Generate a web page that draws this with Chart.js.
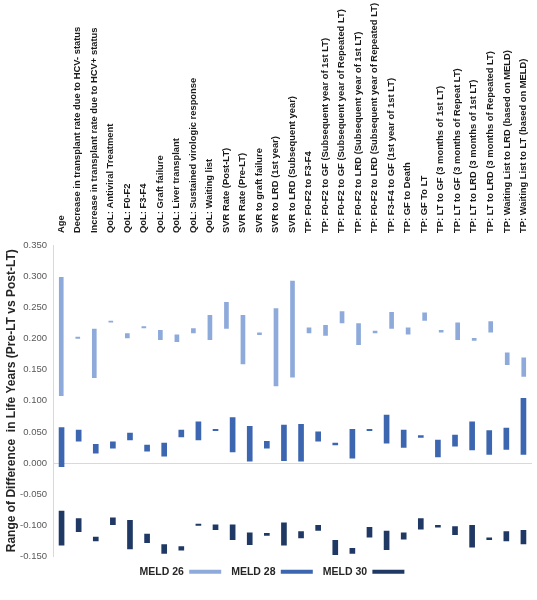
<!DOCTYPE html>
<html>
<head>
<meta charset="utf-8">
<script src="https://cdn.jsdelivr.net/npm/chart.js@4.4.1/dist/chart.umd.min.js"></script>
<style>
  body { margin: 0; background: #fff; }
  #wrap { width: 537px; height: 600px; }
</style>
</head>
<body>
<div id="wrap"><canvas id="rangeChart"></canvas></div>
<script>
// Parameters (top axis, MELD 26 series)
const categories = [
  'Age',
  'Decrease in transplant rate due to HCV- status',
  'Increase in transplant rate due to HCV+ status',
  'QoL: Antiviral Treatment',
  'QoL: F0-F2',
  'QoL: F3-F4',
  'QoL: Graft failure',
  'QoL: Liver transplant',
  'QoL: Sustained virologic response',
  'QoL: Waiting list',
  'SVR Rate (Post-LT)',
  'SVR Rate (Pre-LT)',
  'SVR to graft failure',
  'SVR to LRD (1st year)',
  'SVR to LRD (Subsequent year)',
  'TP: F0-F2 to F3-F4',
  'TP: F0-F2 to GF (Subsequent year of 1st LT)',
  'TP: F0-F2 to GF (Subsequent year of Repeated LT)',
  'TP: F0-F2 to LRD (Subsequent year of 1st LT)',
  'TP: F0-F2 to LRD (Subsequent year of Repeated LT)',
  'TP: F3-F4 to GF (1st year of 1st LT)',
  'TP: GF to Death',
  'TP: GF To LT',
  'TP: LT to GF (3 months of 1st LT)',
  'TP: LT to GF (3 months of Repeat LT)',
  'TP: LT to LRD (3 months of 1st LT)',
  'TP: LT to LRD (3 months of Repeated LT)',
  'TP: Waiting List to LRD (based on MELD)',
  'TP: Waiting List to LT (based on MELD)'
];

// MELD 28 / 30 ranges sit on their own 28-slot axis in the original
const slots28 = ['1', '2', '3', '4', '5', '6', '7', '8', '9', '10', '11', '12', '13', '14',
  '15', '16', '17', '18', '19', '20', '21', '22', '23', '24', '25', '26', '27', '28'];

const meld26Low  = [0.108, 0.200, 0.137, 0.226, 0.201, 0.217, 0.198, 0.195, 0.209, 0.198, 0.216, 0.159, 0.206, 0.124, 0.138,
  0.209, 0.205, 0.225, 0.190, 0.209, 0.216, 0.207, 0.229, 0.210, 0.198, 0.197, 0.210, 0.158, 0.139];
const meld26High = [0.298, 0.202, 0.215, 0.228, 0.208, 0.219, 0.213, 0.206, 0.216, 0.237, 0.258, 0.237, 0.209, 0.248, 0.292,
  0.217, 0.221, 0.243, 0.224, 0.212, 0.242, 0.217, 0.241, 0.213, 0.225, 0.200, 0.227, 0.177, 0.169];

const meld28Low  = [-0.006, 0.035, 0.016, 0.024, 0.037, 0.019, 0.011, 0.042, 0.037, 0.052, 0.018, 0.003, 0.024, 0.004,
  0.003, 0.035, 0.029, 0.008, 0.052, 0.032, 0.025, 0.041, 0.010, 0.027, 0.021, 0.014, 0.022, 0.014];
const meld28High = [0.057, 0.053, 0.030, 0.034, 0.048, 0.029, 0.032, 0.053, 0.066, 0.054, 0.073, 0.059, 0.035, 0.061,
  0.062, 0.050, 0.032, 0.054, 0.054, 0.077, 0.053, 0.044, 0.037, 0.045, 0.066, 0.052, 0.056, 0.104];

const meld30Low  = [-0.132, -0.110, -0.125, -0.099, -0.138, -0.128, -0.145, -0.140, -0.100, -0.107, -0.123, -0.131, -0.116, -0.132,
  -0.120, -0.108, -0.147, -0.145, -0.119, -0.139, -0.122, -0.106, -0.103, -0.115, -0.135, -0.123, -0.125, -0.130];
const meld30High = [-0.077, -0.089, -0.119, -0.088, -0.092, -0.114, -0.131, -0.134, -0.098, -0.099, -0.099, -0.112, -0.113, -0.096,
  -0.110, -0.100, -0.124, -0.137, -0.103, -0.109, -0.112, -0.089, -0.100, -0.102, -0.100, -0.120, -0.110, -0.108];

const yMin = -0.15;
const yMax = 0.35;
const yStep = 0.05;

const font = 'Liberation Sans, Arial, sans-serif';

function toRanges(low, high) {
  return low.map((lo, i) => [lo, high[i]]);
}

// nudge the legend a little right, like the original
const legendShift = {
  id: 'legendShift',
  afterLayout(chart) {
    if (chart.legend) {
      chart.legend.left += 6;
      chart.legend.right += 6;
    }
  }
};

const ctx = document.getElementById('rangeChart').getContext('2d');

new Chart(ctx, {
  type: 'bar',
  data: {
    labels: categories,
    datasets: [
      {
        label: 'MELD 26',
        data: toRanges(meld26Low, meld26High),
        xAxisID: 'x',
        backgroundColor: '#8eaadb',
        barThickness: 4,
        grouped: false
      },
      {
        label: 'MELD 28',
        data: toRanges(meld28Low, meld28High),
        xAxisID: 'x2',
        backgroundColor: '#3d66b0',
        barThickness: 5,
        grouped: false
      },
      {
        label: 'MELD 30',
        data: toRanges(meld30Low, meld30High),
        xAxisID: 'x2',
        backgroundColor: '#1f3864',
        barThickness: 5,
        grouped: false
      }
    ]
  },
  plugins: [legendShift],
  options: {
    responsive: true,
    maintainAspectRatio: false,
    animation: false,
    layout: {
      padding: { top: 0, right: 5, bottom: 13, left: 0 }
    },
    plugins: {
      tooltip: { enabled: false },
      legend: {
        position: 'bottom',
        rtl: true,
        reverse: true,
        labels: {
          boxWidth: 32,
          boxHeight: 4,
          padding: 10,
          color: '#262626',
          font: { family: font, size: 10.5, weight: 'bold' }
        }
      }
    },
    scales: {
      x: {
        type: 'category',
        position: 'top',
        offset: true,
        grid: { display: false, drawTicks: false },
        border: { display: false },
        ticks: {
          autoSkip: false,
          minRotation: 90,
          maxRotation: 90,
          padding: 12,
          labelOffset: 11,
          color: '#1a1a1a',
          font: { family: font, size: 9.4, weight: 'bold' }
        },
        afterFit: (scale) => { scale.height = 245; }
      },
      x2: {
        type: 'category',
        labels: slots28,
        offset: true,
        display: false
      },
      y: {
        min: yMin,
        max: yMax,
        ticks: {
          stepSize: yStep,
          padding: 6,
          color: '#595959',
          font: { family: font, size: 9.5 },
          callback: (val) => Number(val).toFixed(3)
        },
        grid: {
          drawTicks: false,
          color: (c) => (c.tick && Math.abs(c.tick.value) < 1e-9 ? '#d9d9d9' : 'rgba(0,0,0,0)')
        },
        border: { display: true, color: '#d9d9d9' },
        title: {
          display: true,
          text: 'Range of Difference  in Life Years (Pre-LT vs Post-LT)',
          color: '#262626',
          font: { family: font, size: 12, weight: 'bold' },
          padding: { top: 4, bottom: 0 }
        },
        afterFit: (scale) => { scale.width = 53; }
      }
    }
  }
});
</script>
</body>
</html>
